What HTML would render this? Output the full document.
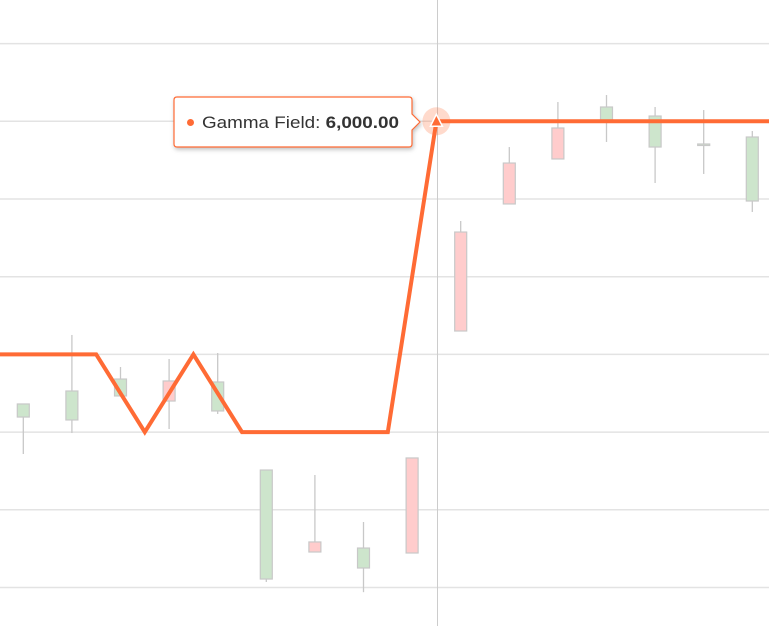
<!DOCTYPE html>
<html><head><meta charset="utf-8"><style>
html,body{margin:0;padding:0;background:#fff;}
svg{display:block;font-family:"Liberation Sans",sans-serif;}
</style></head><body>
<svg id="chart" width="769" height="626" viewBox="0 0 769 626" xmlns="http://www.w3.org/2000/svg">
<g id="grid"></g>
<g id="candles"></g>
<line x1="437.5" y1="0" x2="437.5" y2="626" stroke="#cccccc" stroke-width="1"/>
<g id="lineg"></g>
<g id="tip">
<path d="M177,97 H409 Q412,97 412,100 V114 L420,122 L412,130 V144 Q412,147 409,147 H177 Q174,147 174,144 V100 Q174,97 177,97 Z" fill="#fff" stroke="#ff6b35" stroke-width="1.2" style="filter:drop-shadow(1px 2px 2px rgba(0,0,0,0.25))"/>
<circle cx="190.5" cy="122.5" r="3.5" fill="#ff6b35"/>
<text x="202" y="128" font-size="17" fill="#333" textLength="197" lengthAdjust="spacingAndGlyphs">Gamma Field: <tspan font-weight="bold">6,000.00</tspan></text>
</g>
</svg>
<script>
const gridValues=[0,1000,2000,3000,4000,5000,6000,7000];
const candleOpen=[2194,2156,2465,2658,2272,109,586,251,1667,4575,5463,5914,6017,5669,5708,4974];
const candleClose=[2362,2529,2683,2400,2645,1512,457,508,444,3301,4936,5515,6184,6068,5708,5798];
const candleHigh=[2362,3250,2838,2941,3018,1512,1448,843,1667,4717,5669,6248,6338,6184,6145,5875];
const candleLow=[1718,1988,2465,2040,2233,71,457,-60,444,3301,4936,5515,5734,5206,5322,4833];
const lineValues=[3000,3000,3000,2000,3000,2000,2000,2000,2000,6000,6000,6000,6000,6000,6000,6000,6000];
const activeIndex=9;
const NS="http://www.w3.org/2000/svg";
function x(i){return -1+48.6*i;}
function y(v){return 587.5-v*0.0777;}
function mk(tag,attrs,parent){const e=document.createElementNS(NS,tag);for(const k in attrs)e.setAttribute(k,attrs[k]);parent.appendChild(e);return e;}
const grid=document.getElementById('grid');
gridValues.forEach(v=>{
  const l=mk('line',{x1:0,x2:769,y1:y(v),y2:y(v),stroke:'#e3e3e3','stroke-width':1.5},grid);
  
  
});
const cg=document.getElementById('candles');
candleOpen.forEach((o,i)=>{
  const c=candleClose[i],cx=x(i+0.5);
  const up=c>=o;
  const g=mk('g',{},cg);
  
  
  mk('line',{x1:cx,x2:cx,y1:y(candleHigh[i]),y2:y(candleLow[i]),stroke:'#c8c8c8','stroke-width':1.3},g);
  const top=y(Math.max(o,c)),bot=y(Math.min(o,c));
  mk('rect',{x:cx-6,y:top,width:12,height:Math.max(bot-top,1.5),fill:up?'#cde5cc':'#ffcccc',stroke:'#c8c8c8','stroke-width':1.2},g);
});
const lg=document.getElementById('lineg');
const pts=lineValues.map((v,i)=>x(i)+','+y(v)).join(' ');
const pl=mk('polyline',{points:pts,fill:'none',stroke:'#ff6b35','stroke-width':4,'stroke-linejoin':'miter'},lg);


const ax=x(activeIndex),ay=y(lineValues[activeIndex]);
const halo=mk('circle',{cx:ax,cy:ay,r:14,fill:'#ff6b35','fill-opacity':0.25},lg);


const tri=mk('path',{d:`M${ax},${ay-7} L${ax+6},${ay+5} L${ax-6},${ay+5} Z`,fill:'#ff6b35',stroke:'#fff','stroke-width':1.5},lg);


</script>
</body></html>
